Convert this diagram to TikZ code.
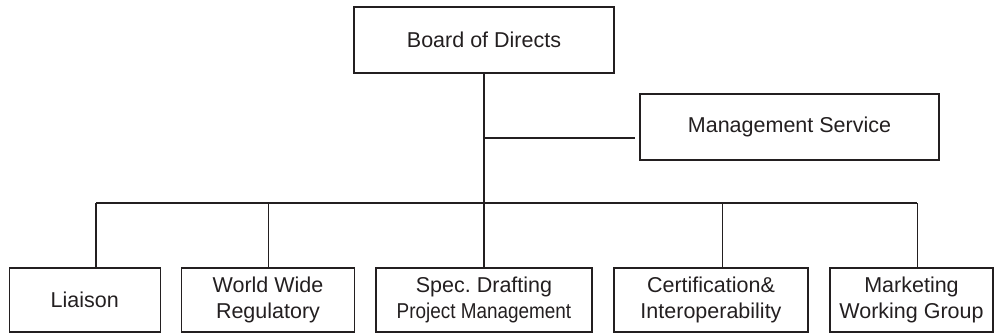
\documentclass[tikz,border=0pt]{standalone}
\usepackage{fontspec}
\usepackage{graphicx}
\setmainfont{Liberation Sans}
\frenchspacing
\definecolor{ink}{HTML}{231F20}
\begin{document}
\begin{tikzpicture}[x=1pt,y=-1pt,
  box/.style={draw=ink, line width=1.2pt, rectangle, inner sep=0pt,
    text=ink, align=center, font=\fontsize{21.5}{26.5}\selectfont},
  link/.style={draw=ink, line width=1.2pt}]
\useasboundingbox (0,0) rectangle (994,333);
% top level
\node[box, minimum width=260, minimum height=66] (board) at (484,40) {Board of Directs};
\node[box, minimum width=299, minimum height=66] (mgmt) at (789.5,127) {Management Service};
% working groups
\node[box, minimum width=151, minimum height=64] (liaison) at (84.7,300) {Liaison};
\node[box, minimum width=173, minimum height=64] (wwr) at (268,300) {World Wide\\Regulatory};
\node[box, minimum width=216, minimum height=64] (spec) at (484,300) {Spec. Drafting\\\scalebox{0.88}[1]{Project Management}};
\node[box, minimum width=194, minimum height=64] (cert) at (711,300) {Certification\&\\Interoperability};
\node[box, minimum width=163, minimum height=64] (mkt) at (911.5,300) {Marketing\\Working Group};
% junction points
\coordinate (mj) at (484,138);
\coordinate (bl) at (96,203);
\coordinate (b2) at (268.3,203);
\coordinate (b4) at (722.3,203);
\coordinate (br) at (917.3,203);
% connectors
\draw[link] (board.south) -- (spec.north);
\draw[link, shorten >=4pt] (mj) -- (mj -| mgmt.west);
\draw[link] (bl) -- (br);
\draw[link] (bl) -- (bl |- liaison.north);
\draw[link] (b2) -- (b2 |- wwr.north);
\draw[link] (b4) -- (b4 |- cert.north);
\draw[link] (br) -- (br |- mkt.north);
\end{tikzpicture}
\end{document}
